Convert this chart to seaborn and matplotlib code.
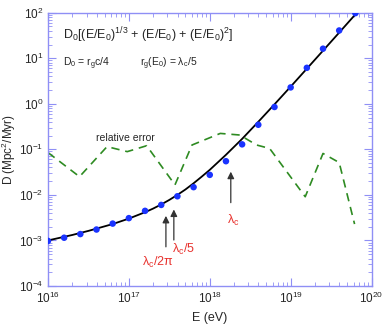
import numpy as np
import pandas as pd
import matplotlib
matplotlib.use("Agg")
import matplotlib.pyplot as plt
import seaborn as sns

# data (log10 values)
pts_logE = [16.0, 16.2, 16.4, 16.6, 16.8, 17.0, 17.2, 17.4, 17.6, 17.8,
            18.0, 18.2, 18.4, 18.6, 18.8, 19.0, 19.2, 19.4, 19.6, 19.8]
pts_logD = [-3.01, -2.94, -2.86, -2.76, -2.63, -2.51, -2.35, -2.22, -2.03, -1.83,
            -1.56, -1.26, -0.89, -0.46, -0.07, 0.36, 0.79, 1.21, 1.61, 1.99]

fit_logE = [16.0, 16.1, 16.2, 16.3, 16.4, 16.5, 16.6, 16.7, 16.8, 16.9,
            17.0, 17.1, 17.2, 17.3, 17.4, 17.5, 17.6, 17.7, 17.8, 17.9,
            18.0, 18.2, 18.4, 18.6, 18.8, 19.0, 19.2, 19.4, 19.6, 19.8]
fit_logD = [-3.00, -2.96, -2.92, -2.88, -2.835, -2.79, -2.74, -2.69, -2.64, -2.58,
            -2.52, -2.45, -2.38, -2.30, -2.21, -2.11, -2.00, -1.88, -1.745, -1.60,
            -1.45, -1.12, -0.77, -0.395, -0.012, 0.377, 0.771, 1.167, 1.564, 1.963]

err_logE = [16.0, 16.39, 16.73, 16.98, 17.22, 17.57, 17.78, 18.13, 18.37,
            18.58, 18.74, 19.18, 19.40, 19.60, 19.79]
err_logD = [-1.07, -1.60, -0.94, -1.05, -0.92, -1.78, -0.905, -0.65, -0.685,
            -0.905, -0.98, -2.04, -1.09, -1.29, -2.64]

pts = pd.DataFrame({"E": np.power(10.0, pts_logE), "D": np.power(10.0, pts_logD)})
fit = pd.DataFrame({"E": np.power(10.0, fit_logE), "D": np.power(10.0, fit_logD)})
err = pd.DataFrame({"E": np.power(10.0, err_logE), "D": np.power(10.0, err_logD)})

sns.set_style("ticks")
plt.rcParams["font.family"] = ["Liberation Sans", "DejaVu Sans"]
plt.rcParams["mathtext.default"] = "regular"

axc = "#8f8ff5"
fig = plt.figure(figsize=(3.9, 3.26), dpi=100)
ax = fig.add_axes([0.123, 0.1227, 0.8297, 0.8383])
ax.set_xscale("log")
ax.set_yscale("log")

sns.lineplot(data=err, x="E", y="D", ax=ax, color="#2e8b22", lw=1.2,
             sort=False, estimator=None, dashes=False)
ax.lines[-1].set_dashes((5, 3.5))
sns.lineplot(data=fit, x="E", y="D", ax=ax, color="black", lw=1.3,
             sort=False, estimator=None)
sns.scatterplot(data=pts, x="E", y="D", ax=ax, color="#1a33ff", s=22,
                edgecolor="none", zorder=3)

ax.set_xlim(1e16, 1e20)
ax.set_ylim(1e-4, 1e2)
ax.set_xlabel("E (eV)", fontsize=9)
ax.set_ylabel("D (Mpc$^2$/Myr)", fontsize=8.5)
ax.yaxis.set_label_coords(-0.092, 0.5)

for s in ax.spines.values():
    s.set_color(axc)
    s.set_linewidth(1.0)
ax.tick_params(which="both", direction="in", top=True, right=True, color=axc,
               labelsize=8.5)
ax.tick_params(which="major", length=6)
ax.tick_params(which="minor", length=3)

# text
ax.text(0.046, 0.918, r"D$_0$[(E/E$_0$)$^{1/3}$ + (E/E$_0$) + (E/E$_0$)$^2$]",
        transform=ax.transAxes, fontsize=9, va="center")
ax.text(0.046, 0.812, r"D$_0$ = r$_g$c/4", transform=ax.transAxes,
        fontsize=7.5, va="center")
ax.text(0.284, 0.812, r"r$_g$(E$_0$) = $\lambda_c$/5", transform=ax.transAxes,
        fontsize=7.5, va="center")
ax.text(0.238, 0.5415, "relative error", transform=ax.transAxes,
        fontsize=7.5, ha="center", va="center")

red = "#e8322e"
ax.text(0.34, 0.088, r"$\lambda_c$/2$\pi$", transform=ax.transAxes,
        fontsize=9, ha="center", va="center", color=red)
ax.text(0.42, 0.135, r"$\lambda_c$/5", transform=ax.transAxes,
        fontsize=9, ha="center", va="center", color=red)
ax.text(0.572, 0.241, r"$\lambda_c$", transform=ax.transAxes,
        fontsize=9, ha="center", va="center", color=red)

arrows = [(17.458, -2.46, -3.14), (17.556, -2.32, -2.99), (18.26, -1.49, -2.17)]
for xe, ytip, ytail in arrows:
    ax.annotate("", xy=(10 ** xe, 10 ** ytip), xytext=(10 ** xe, 10 ** ytail),
                arrowprops=dict(arrowstyle="-|>", color="0.2", lw=0.9,
                                mutation_scale=10, shrinkA=0, shrinkB=0))

fig.savefig("out.png", dpi=100)
